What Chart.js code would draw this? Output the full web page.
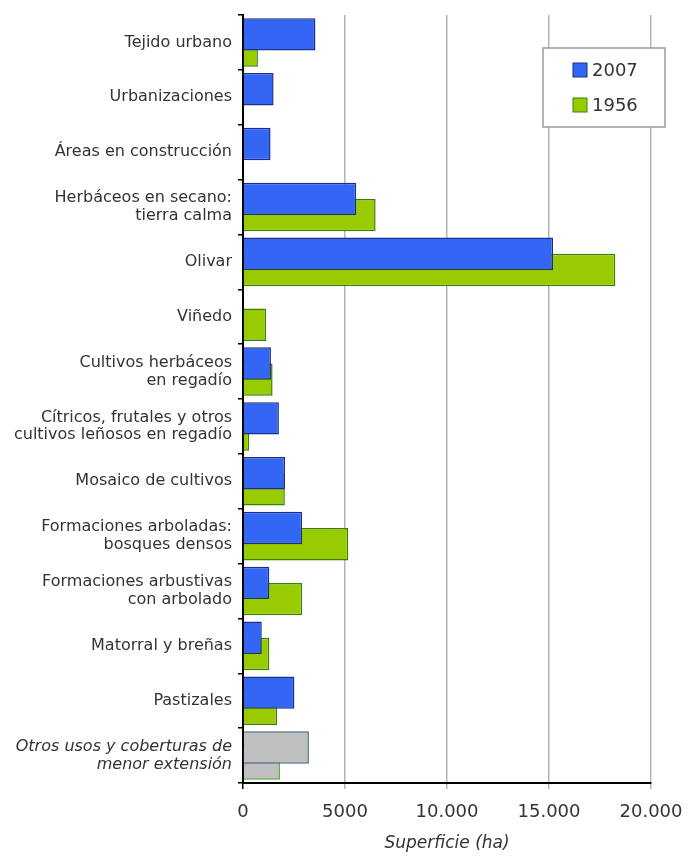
<!DOCTYPE html>
<html>
<head>
<meta charset="utf-8">
<script src="https://cdn.jsdelivr.net/npm/chart.js@4/dist/chart.umd.min.js"></script>
<style>
  html, body { margin: 0; padding: 0; background: #fff; }
  #wrap { width: 688px; height: 859px; }
</style>
</head>
<body>
<div id="wrap"><canvas id="landChart" width="688" height="859"></canvas></div>
<script>
const categories = [
  "Tejido urbano",
  "Urbanizaciones",
  "Áreas en construcción",
  ["Herbáceos en secano:", "tierra calma"],
  "Olivar",
  "Viñedo",
  ["Cultivos herbáceos", "en regadío"],
  ["Cítricos, frutales y otros", "cultivos leñosos en regadío"],
  "Mosaico de cultivos",
  ["Formaciones arboladas:", "bosques densos"],
  ["Formaciones arbustivas", "con arbolado"],
  "Matorral y breñas",
  "Pastizales",
  ["Otros usos y coberturas de", "menor extensión"],
];

const values2007 = [3550, 1500, 1350, 5550, 15200, 0, 1370, 1760, 2060, 2900, 1290, 920, 2520, 3230];
const values1956 = [730, 0, 0, 6500, 18250, 1130, 1450, 300, 2050, 5160, 2900, 1290, 1670, 1810];

const xTicks = [0, 5000, 10000, 15000, 20000];

const otherIndex = categories.length - 1;

function fillFor(color, i) {
  return i === otherIndex ? "#c0c0c0" : color;
}

function formatTick(value) {
  if (value < 10000) return String(value);
  return String(value).replace(/\B(?=(\d{3})+(?!\d))/g, ".");
}

const legendBox = {
  id: "legendBox",
  afterDraw(chart) {
    const ctx = chart.ctx;
    ctx.save();
    ctx.fillStyle = "#ffffff";
    ctx.fillRect(543, 48, 122, 79);
    ctx.strokeStyle = "#9a9a9a";
    ctx.lineWidth = 1.5;
    ctx.strokeRect(543, 48, 122, 79);
    ctx.font = "18px 'DejaVu Sans'";
    ctx.textBaseline = "middle";
    chart.data.datasets.forEach((ds, i) => {
      const y = 70 + i * 35;
      ctx.fillStyle = ds.backgroundColor[0];
      ctx.fillRect(573, y - 7, 14, 14);
      ctx.strokeStyle = ds.borderColor[0];
      ctx.lineWidth = 1;
      ctx.strokeRect(573, y - 7, 14, 14);
      ctx.fillStyle = "#333333";
      ctx.fillText(ds.label, 592, y + 1);
    });
    ctx.restore();
  },
};

new Chart(document.getElementById("landChart"), {
  type: "bar",
  data: {
    labels: categories,
    datasets: [
      {
        label: "2007",
        data: values2007,
        backgroundColor: values2007.map((v, i) => fillFor("#3366f5", i)),
        borderColor: values2007.map((v, i) => (i === otherIndex ? "#4a6285" : "#1a2f8a")),
        borderWidth: 1.5,
      },
      {
        label: "1956",
        data: values1956,
        backgroundColor: values1956.map((v, i) => fillFor("#99cc00", i)),
        borderColor: values1956.map((v, i) => (i === otherIndex ? "#4c9a3a" : "#3a8008")),
        borderWidth: 1.5,
      },
    ],
  },
  options: {
    indexAxis: "y",
    responsive: false,
    animation: false,
    categoryPercentage: 0.59,
    barPercentage: 2,
    layout: { padding: { top: 15, right: 37, left: 0, bottom: 0 } },
    scales: {
      x: {
        min: 0,
        max: 20000,
        afterBuildTicks(scale) {
          scale.ticks = xTicks.map((v) => ({ value: v }));
        },
        afterFit(scale) {
          scale.height = 76;
          scale.paddingLeft = 0;
          scale.paddingRight = 0;
        },
        grid: {
          color: (c) => (c.tick && c.tick.value === 0 ? "#000000" : "#b4b4b4"),
          lineWidth: 1.5,
          tickLength: 6,
        },
        border: { color: "#000000", width: 2 },
        ticks: {
          callback: (v) => formatTick(v),
          color: "#333333",
          font: { family: "'DejaVu Sans'", size: 18 },
          padding: 13,
          maxRotation: 0,
        },
        title: {
          display: true,
          text: "Superficie (ha)",
          color: "#333333",
          font: { family: "'DejaVu Sans'", size: 17, style: "italic" },
          padding: { top: 0, bottom: 5 },
        },
      },
      y: {
        afterFit(scale) {
          scale.width = 243;
          scale.paddingTop = 0;
          scale.paddingBottom = 0;
        },
        grid: {
          offset: true,
          drawOnChartArea: false,
          color: "#000000",
          lineWidth: 1.5,
          tickLength: 5,
        },
        border: { color: "#000000", width: 2 },
        ticks: {
          color: "#333333",
          padding: 6,
          autoSkip: false,
          font: (c) => ({
            family: "'DejaVu Sans'",
            size: 16,
            lineHeight: 1.1,
            style: c.index === otherIndex ? "italic" : "normal",
          }),
        },
      },
    },
    plugins: {
      legend: { display: false },
      tooltip: { enabled: false },
    },
  },
  plugins: [legendBox],
});
</script>
</body>
</html>
